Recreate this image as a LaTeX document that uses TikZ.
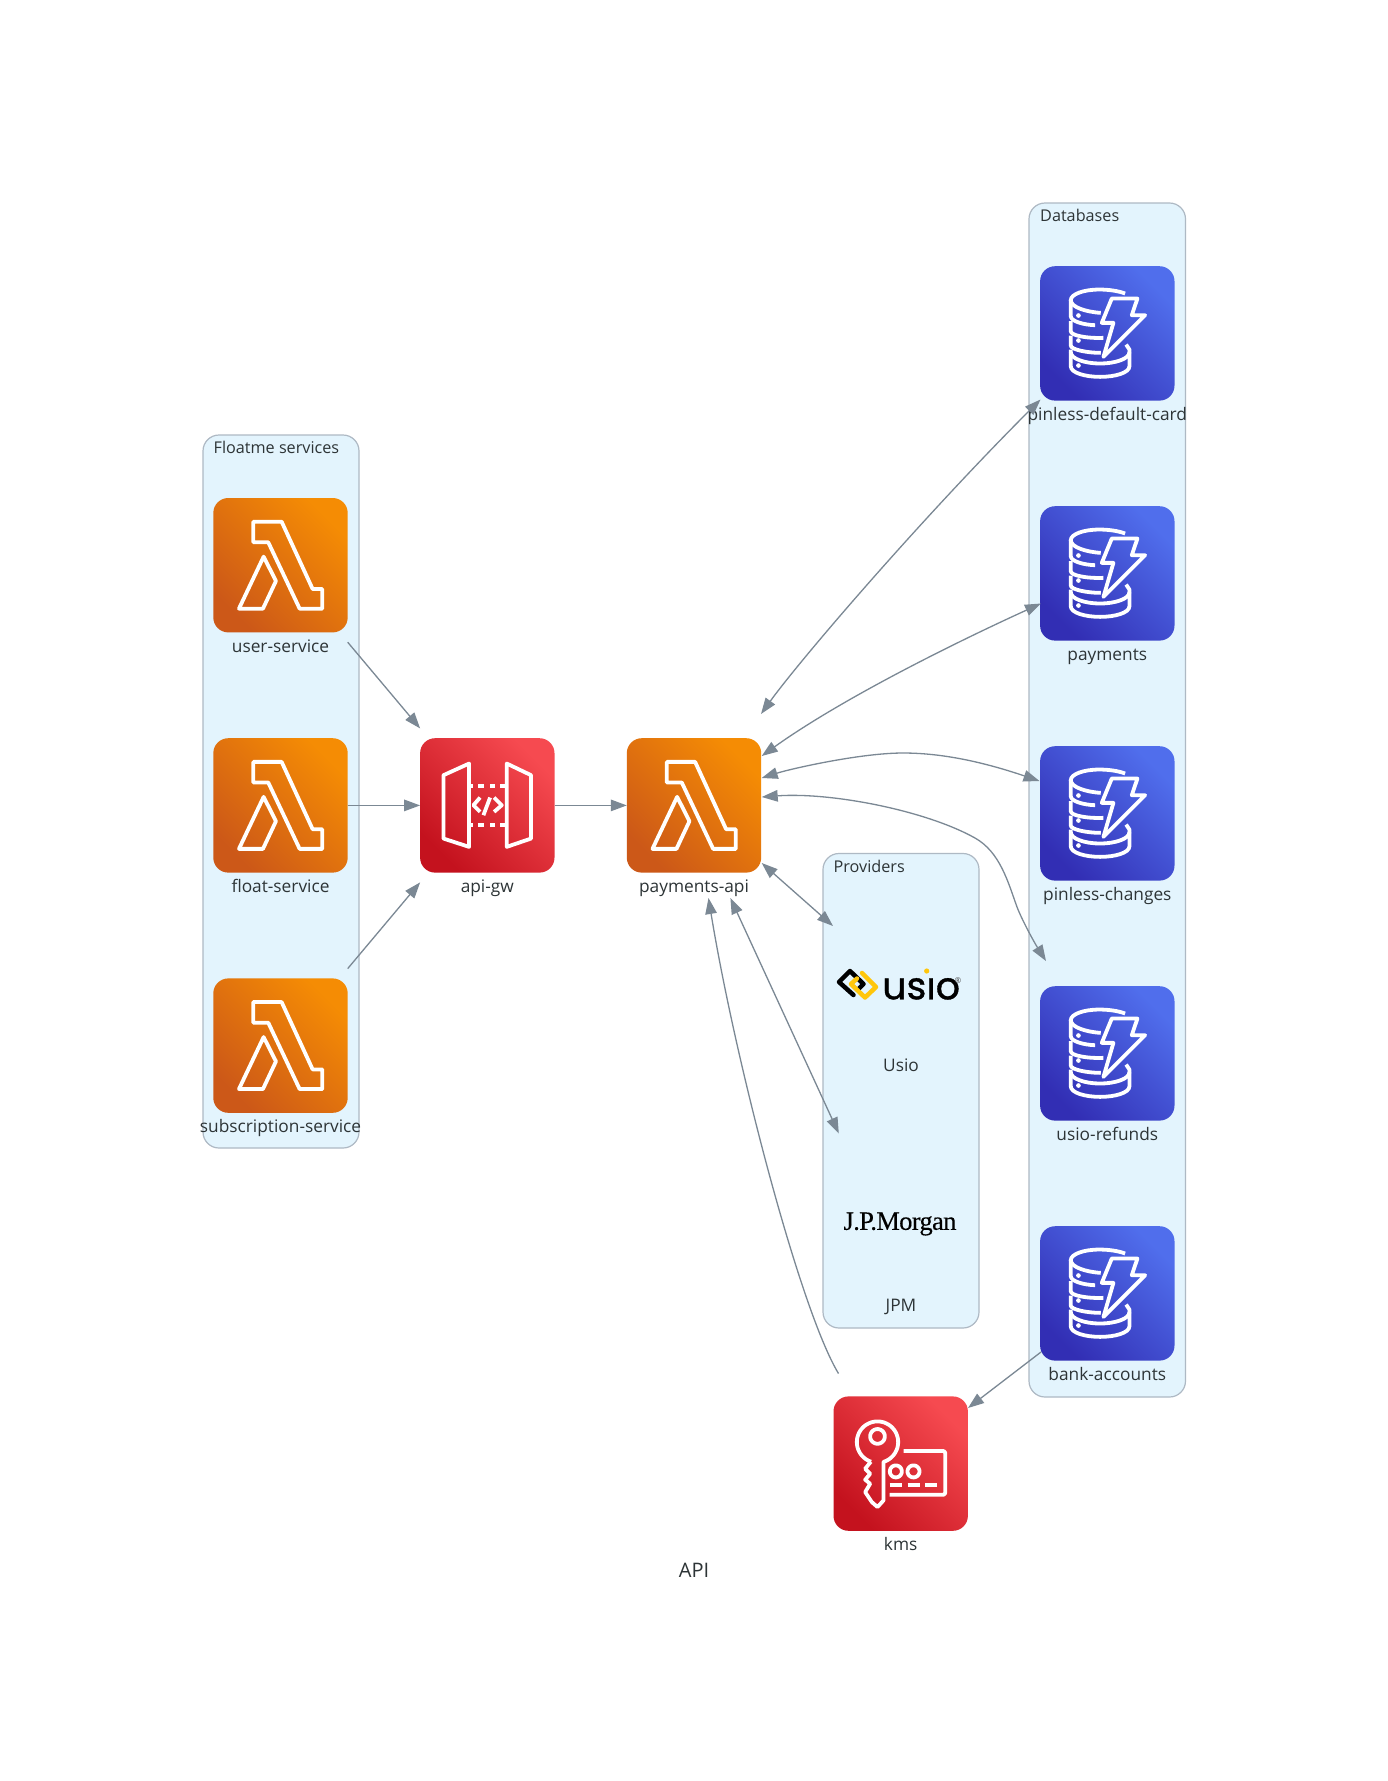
\documentclass[tikz,border=0pt]{standalone}
\usepackage{fontspec}
\setmainfont{Open Sans}
\newfontfamily\usiofont{Poppins}[FakeBold=0.9]
\newfontfamily\jpmfont{Liberation Serif}[FakeBold=0.3,LetterSpace=-2.5]
\usetikzlibrary{arrows.meta,calc}
\definecolor{inkc}{HTML}{2D3436}
\definecolor{edgec}{HTML}{7B8894}
\definecolor{clusterfill}{HTML}{E3F4FD}
\definecolor{clusterline}{HTML}{AEB9C4}
\definecolor{orangedark}{RGB}{204,88,24}
\definecolor{orangelight}{RGB}{245,140,4}
\definecolor{reddark}{RGB}{196,18,30}
\definecolor{redlight}{RGB}{246,74,80}
\definecolor{bluedark}{RGB}{50,46,180}
\definecolor{bluelight}{RGB}{80,110,236}
\definecolor{usioyellow}{HTML}{FFC60B}
\tikzset{
  iconnode/.style={draw=none,minimum width=134.4pt,minimum height=154pt,inner sep=0pt,outer sep=0pt},
  orangeface/.style={rounded corners=15pt,bottom color=orangedark,top color=orangelight,middle color=orangedark!50!orangelight,shading angle=-45},
  redface/.style={rounded corners=15pt,bottom color=reddark,top color=redlight,middle color=reddark!50!redlight,shading angle=-45},
  blueface/.style={rounded corners=15pt,bottom color=bluedark,top color=bluelight,middle color=bluedark!50!bluelight,shading angle=-45},
  glyph/.style={draw=white,line width=3.8pt,line join=round,line cap=butt},
  iconlabel/.style={anchor=base,text=inkc,font=\fontsize{17.3}{19}\selectfont,inner sep=0pt},
  clusterbox/.style={draw=clusterline,fill=clusterfill,line width=1.2pt,rounded corners=16pt},
  clusterlabel/.style={anchor=base west,text=inkc,font=\fontsize{16.2}{18}\selectfont,inner sep=0pt},
  edgeline/.style={draw=edgec,line width=1.3pt,-{Triangle[length=16pt,width=11.5pt]}},
  edgeboth/.style={draw=edgec,line width=1.3pt,{Triangle[length=16pt,width=11.5pt]}-{Triangle[length=16pt,width=11.5pt]}}
}
\newcommand{\awsicon}[6]{%
  \node[iconnode] (#1) at (#2,#3) {};
  \path[#4] (#2-67.2,#3-67.2) rectangle (#2+67.2,#3+67.2);
  \begin{scope}[shift={(#2-67.2,#3-67.2)},x=0.3333pt,y=-0.3333pt,glyph]
    #5
  \end{scope}
  \node[iconlabel] (#1-label) at (#2,#3+87.2) {#6};
}
\newcommand{\glyphlambda}{%
  \draw (120,71) -- (205,71) -- (298,273) -- (327,273) -- (327,332) -- (259,332) -- (165,133) -- (120,133) -- cycle;
  \draw (151,176) -- (188,249) -- (149,332) -- (77,332) -- cycle;
}
\newcommand{\glyphgateway}{%
  \draw (147,76) -- (70,111) -- (70,301) -- (147,326) -- cycle;
  \draw (260,76) -- (333,111) -- (333,301) -- (260,326) -- cycle;
  \draw (147,143) -- (160,143) (175,143) -- (192,143) (210,143) -- (225,143) (240,143) -- (260,143);
  \draw (147,261) -- (160,261) (175,261) -- (192,261) (210,261) -- (225,261) (240,261) -- (260,261);
  \draw (180,178) -- (160,201) -- (180,221);
  \draw (210,178) -- (190,231);
  \draw (222,178) -- (245,201) -- (222,221);
}
\newcommand{\glyphdynamo}{%
  \draw (255,82) .. controls (235,74) and (205,70) .. (178,70) .. controls (130,70) and (92,84) .. (92,102) .. controls (92,122) and (135,137) .. (182,140);
  \draw (92,102) -- (92,150) .. controls (92,165) and (130,176) .. (165,177);
  \draw (92,165) -- (92,195) .. controls (92,208) and (140,217) .. (190,215);
  \draw (92,208) -- (92,238) .. controls (92,250) and (140,260) .. (182,260);
  \draw (92,250) -- (92,300) .. controls (92,320) and (135,332) .. (180,332) .. controls (225,332) and (268,320) .. (268,300) -- (268,250) -- (258,235);
  \draw (92,258) .. controls (92,278) and (135,292) .. (180,292) .. controls (225,292) and (268,278) .. (268,258);
  \fill[white] (115,148) circle[radius=7] (115,223) circle[radius=7] (115,298) circle[radius=7];
  \draw (215,97) -- (292,97) -- (275,147) -- (315,147) -- (190,272) -- (220,170) -- (185,170) -- cycle;
}
\newcommand{\glyphkms}{%
  \draw plot[domain=-252:73,samples=60,variable=\t] ({132+62*cos(\t)},{137+62*sin(\t)}) -- (150,312) -- (132,332) -- (115,317) -- (95,287) -- (110,262) -- (95,250) -- (110,232) -- (95,217) -- (112,196);
  \draw plot[domain=0:360,samples=40,variable=\t] ({132+22*cos(\t)},{120+22*sin(\t)}) -- cycle;
  \draw[rounded corners=1.5pt] (210,164) -- (335,164) -- (335,295) -- (168,295);
  \draw plot[domain=0:360,samples=30,variable=\t] ({187+18*cos(\t)},{225+18*sin(\t)}) -- cycle;
  \draw plot[domain=0:360,samples=30,variable=\t] ({240+18*cos(\t)},{225+18*sin(\t)}) -- cycle;
  \draw (168,266) -- (205,266) (222,266) -- (258,266) (275,266) -- (312,266);
}
\begin{document}
\begin{tikzpicture}[x=1pt,y=-1pt]
\useasboundingbox (0,0) rectangle (1388,1781);
\fill[white] (0,0) rectangle (1388,1781);

% clusters
\draw[clusterbox] (203,435) rectangle (359,1148);
\node[clusterlabel] (floatme-title) at (213.5,453.5) {Floatme services};
\draw[clusterbox] (1029,203) rectangle (1185.5,1397);
\node[clusterlabel] (db-title) at (1040,221.5) {Databases};
\draw[clusterbox] (823,853.5) rectangle (979,1328);
\node[clusterlabel] (prov-title) at (833.5,872.5) {Providers};

% icon nodes
\awsicon{user}{280.5}{565.2}{orangeface}{\glyphlambda}{user-service}
\awsicon{float}{280.5}{805.4}{orangeface}{\glyphlambda}{float-service}
\awsicon{subs}{280.5}{1045.6}{orangeface}{\glyphlambda}{subscription-service}
\awsicon{apigw}{487.3}{805.4}{redface}{\glyphgateway}{api-gw}
\awsicon{payapi}{694}{805.4}{orangeface}{\glyphlambda}{payments-api}
\awsicon{pdc}{1107.3}{333.4}{blueface}{\glyphdynamo}{pinless-default-card}
\awsicon{paydb}{1107.3}{573.4}{blueface}{\glyphdynamo}{payments}
\awsicon{pchg}{1107.3}{813.4}{blueface}{\glyphdynamo}{pinless-changes}
\awsicon{refunds}{1107.3}{1053.4}{blueface}{\glyphdynamo}{usio-refunds}
\awsicon{bank}{1107.3}{1293.4}{blueface}{\glyphdynamo}{bank-accounts}
\awsicon{kms}{900.7}{1463.6}{redface}{\glyphkms}{kms}

% provider nodes
\node[iconnode] (usio) at (901,984.5) {};
\draw[line width=4.5pt,line join=round,line cap=round,black] (853.5,995) -- (839,982) -- (850,971) -- (863.5,984) -- (857.5,990);
\draw[line width=4.5pt,line join=round,line cap=round,usioyellow] (862,973) -- (876,987) -- (865,997.5) -- (851,984) -- (857,978.5);
\node[anchor=base west,inner sep=0pt,text=black,font=\usiofont\fontsize{38}{40}\selectfont] (usio-logo) at (882,999.3) {us\i o};
\fill[usioyellow] (926.7,971) circle[radius=2.6pt];
\node[anchor=center,inner sep=0pt,text=black!70,font=\fontsize{8}{9}\selectfont] (usio-reg) at (958,981) {®};
\node[iconlabel] (usio-label) at (901,1071.5) {Usio};
\node[iconnode] (jpm) at (901,1222) {};
\node[anchor=center,inner sep=0pt,text=black,font=\jpmfont\fontsize{26.5}{28}\selectfont] (jpm-logo) at (900,1224) {J.P.Morgan};
\node[iconlabel] (jpm-label) at (901,1311) {JPM};

% title
\node[anchor=center,inner sep=0pt,text=inkc,font=\fontsize{20}{22}\selectfont] (title) at (694,1570) {API};

% free connector ends
\coordinate (e-pdc-a) at (761,714);
\coordinate (e-pdc-b) at (1040.5,399.5);
\coordinate (e-pay-a) at (761.7,756);
\coordinate (e-pay-b) at (1041,603.5);
\coordinate (e-chg-a) at (761.7,778);
\coordinate (e-chg-b) at (1039.5,781);
\coordinate (e-ref-a) at (761.7,797);
\coordinate (e-ref-b) at (1046,961);
\coordinate (e-usio-a) at (761.7,863);
\coordinate (e-usio-b) at (833,926);
\coordinate (e-jpm-a) at (730.4,898);
\coordinate (e-jpm-b) at (838.8,1133.5);
\coordinate (e-kms-a) at (838.5,1373.5);
\coordinate (e-kms-b) at (708.5,898);
\coordinate (e-bank-a) at (1041,1352);
\coordinate (e-bank-b) at (968,1408);

% connectors
\draw[edgeline] (user.south east) -- (apigw.north west);
\draw[edgeline] (float.east) -- (apigw.west);
\draw[edgeline] (subs.north east) -- (apigw.south west);
\draw[edgeline] (apigw.east) -- (payapi.west);
\draw[edgeboth] (e-pdc-a) .. controls (800,660) and (920,520) .. (e-pdc-b);
\draw[edgeboth] (e-pay-a) .. controls (840,700) and (950,645) .. (e-pay-b);
\draw[edgeboth] (e-chg-a) .. controls (790,769) and (860,753) .. (903,753) .. controls (950,753) and (995,766) .. (e-chg-b);
\draw[edgeboth] (e-ref-a) .. controls (830,792) and (925,810) .. (975,838) .. controls (1000,852) and (1008,882) .. (1017,907) .. controls (1022,920) and (1034,942) .. (e-ref-b);
\draw[edgeboth] (e-usio-a) -- (e-usio-b);
\draw[edgeboth] (e-jpm-a) -- (e-jpm-b);
\draw[edgeline] (e-kms-a) .. controls (800,1310) and (735,1060) .. (e-kms-b);
\draw[edgeline] (e-bank-a) -- (e-bank-b);
\end{tikzpicture}
\end{document}
